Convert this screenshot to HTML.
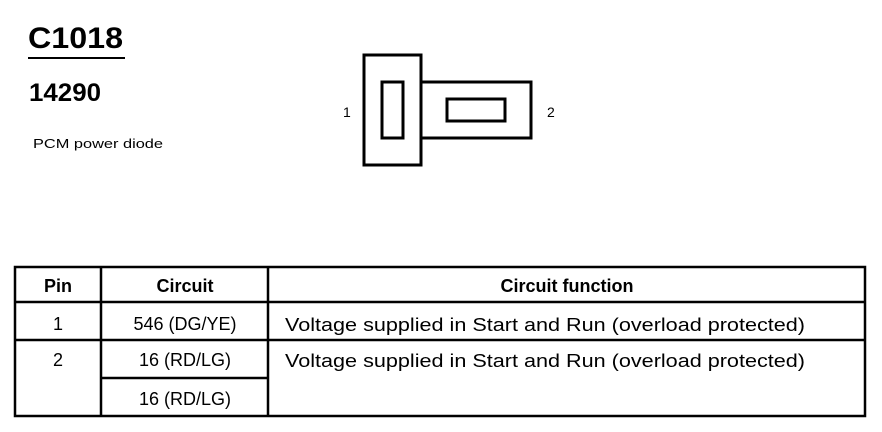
<!DOCTYPE html>
<html><head><style>
html,body{margin:0;padding:0;background:#fff;width:882px;height:432px;overflow:hidden}
text{font-family:"Liberation Sans",Arial,sans-serif;fill:#000}
</style></head><body>
<svg width="882" height="432" viewBox="0 0 882 432" xmlns="http://www.w3.org/2000/svg">
<text x="28" y="48" font-size="30" font-weight="bold" textLength="95" lengthAdjust="spacingAndGlyphs">C1018</text>
<line x1="28" y1="58" x2="125" y2="58" stroke="#000" stroke-width="2"/>
<text x="29" y="101" font-size="25" font-weight="bold" textLength="72" lengthAdjust="spacingAndGlyphs">14290</text>
<text x="33" y="148" font-size="13" textLength="130" lengthAdjust="spacingAndGlyphs">PCM power diode</text>
<g fill="none" stroke="#000" stroke-width="3">
<rect x="364" y="55" width="57" height="110"/>
<rect x="382" y="82" width="21" height="56"/>
<path d="M421 82 H531 V138 H421"/>
<rect x="447" y="99" width="58" height="22"/>
</g>
<text x="343" y="117" font-size="14">1</text>
<text x="547" y="117" font-size="14">2</text>
<g fill="none" stroke="#000" stroke-width="2.5">
<rect x="15" y="267" width="850" height="149"/>
<line x1="101" y1="267" x2="101" y2="416"/>
<line x1="268" y1="267" x2="268" y2="416"/>
<line x1="15" y1="302" x2="865" y2="302"/>
<line x1="15" y1="340" x2="865" y2="340"/>
<line x1="101" y1="378" x2="268" y2="378"/>
</g>
<g font-size="18" text-anchor="middle">
<text x="58" y="292" font-weight="bold">Pin</text>
<text x="185" y="292" font-weight="bold">Circuit</text>
<text x="567" y="292" font-weight="bold">Circuit function</text>
<text x="58" y="330">1</text>
<text x="185" y="330">546 (DG/YE)</text>
<text x="58" y="366">2</text>
<text x="185" y="366">16 (RD/LG)</text>
<text x="185" y="405">16 (RD/LG)</text>
</g>
<g font-size="18">
<text x="285" y="331" textLength="520" lengthAdjust="spacingAndGlyphs">Voltage supplied in Start and Run (overload protected)</text>
<text x="285" y="367" textLength="520" lengthAdjust="spacingAndGlyphs">Voltage supplied in Start and Run (overload protected)</text>
</g>
</svg>
</body></html>
